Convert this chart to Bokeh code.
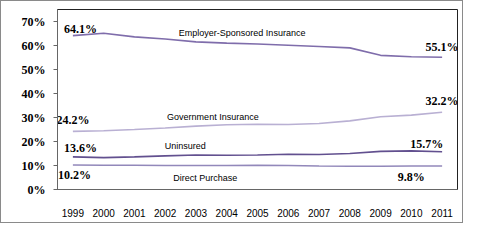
from bokeh.plotting import figure
from bokeh.models import FixedTicker, PrintfTickFormatter, Range1d
from bokeh.core.properties import value
from bokeh.embed import file_html
from bokeh.resources import INLINE

years = [1999, 2000, 2001, 2002, 2003, 2004, 2005, 2006, 2007, 2008, 2009, 2010, 2011]
employer = [64.1, 65.1, 63.6, 62.7, 61.5, 61.0, 60.6, 60.1, 59.6, 59.0, 55.9, 55.3, 55.1]
government = [24.2, 24.5, 25.0, 25.6, 26.4, 27.0, 27.2, 27.1, 27.5, 28.6, 30.3, 31.0, 32.2]
uninsured = [13.6, 13.3, 13.6, 14.0, 14.4, 14.3, 14.4, 14.7, 14.6, 15.0, 15.9, 16.1, 15.7]
direct = [10.2, 10.1, 10.1, 10.0, 10.0, 10.0, 10.1, 10.0, 9.8, 9.7, 9.7, 9.8, 9.8]
series_names = ["Employer-Sponsored Insurance", "Government Insurance", "Uninsured", "Direct Purchase"]
y_ticks = [0, 10, 20, 30, 40, 50, 60, 70]

colors = ["#7f6dab", "#b9b0d3", "#62508f", "#9288ba"]
widths = [1.6, 1.6, 1.6, 1.6]

p = figure(width=463, height=223, output_backend="svg", toolbar_location=None,
           x_range=Range1d(1998.5, 2011.5), y_range=Range1d(0, 75),
           min_border_left=56, min_border_right=7, min_border_top=8, min_border_bottom=35,
           background_fill_color="white", border_fill_color="white")
p.styles = {"border": "1px solid #8a8a8a"}
p.outline_line_color = "#222222"
p.outline_line_width = 1
p.xgrid.visible = False
p.ygrid.visible = False

p.yaxis.ticker = FixedTicker(ticks=y_ticks)
p.yaxis.formatter = PrintfTickFormatter(format="%d%%")
p.yaxis.major_label_text_font = "Liberation Serif"
p.yaxis.major_label_text_font_style = "bold"
p.yaxis.major_label_text_font_size = "12px"
p.yaxis.major_label_text_color = "black"
p.yaxis.axis_line_color = "#666666"
p.yaxis.major_tick_line_color = "#666666"
p.yaxis.major_tick_out = 4
p.yaxis.major_tick_in = 0
p.yaxis.minor_tick_line_color = None
p.yaxis.major_label_standoff = 8

p.xaxis.ticker = FixedTicker(ticks=years)
p.xaxis.major_label_text_font = "Liberation Sans"
p.xaxis.major_label_text_font_size = "10px"
p.xaxis.major_label_text_color = "black"
p.xaxis.axis_line_color = "#666666"
p.xaxis.major_tick_line_color = None
p.xaxis.minor_tick_line_color = None
p.xaxis.major_label_standoff = 13

all_series = [employer, government, uninsured, direct]
for vals, c, w in zip(all_series, colors, widths):
    p.line(years, vals, line_color=c, line_width=w)

# series name labels (placed relative to the line near their x)
name_x = [2004.5, 2003.55, 2002.65, 2003.3]
name_ref = [2004, 2004, 2003, 2003]
name_dy = [4.3, 3.2, 3.7, -5.0]
for nm, nx, rx, dy, vals in zip(series_names, name_x, name_ref, name_dy, all_series):
    base = vals[years.index(rx)]
    p.text([nx], [base + dy], text=[nm], text_font=value("Liberation Sans"),
           text_font_size="9px", text_color="black", text_align="center",
           text_baseline="middle")

def pct(v):
    return "%.1f%%" % v

start_x = [1999.25, 1999.0, 1999.25, 1999.05]
start_dy = [2.8, 4.8, 3.5, -4.2]
end_x = [2011.0, 2011.0, 2010.5, 2010.0]
end_dy = [4.2, 4.5, 3.3, -4.4]
for vals, sx, sdy, ex, edy in zip(all_series, start_x, start_dy, end_x, end_dy):
    p.text([sx], [vals[0] + sdy], text=[pct(vals[0])], text_font=value("Liberation Serif"),
           text_font_style="bold", text_font_size="12px", text_color="black",
           text_align="center", text_baseline="middle")
    p.text([ex], [vals[-1] + edy], text=[pct(vals[-1])], text_font=value("Liberation Serif"),
           text_font_style="bold", text_font_size="12px", text_color="black",
           text_align="center", text_baseline="middle")

open("out.html", "w").write(file_html(p, INLINE))
